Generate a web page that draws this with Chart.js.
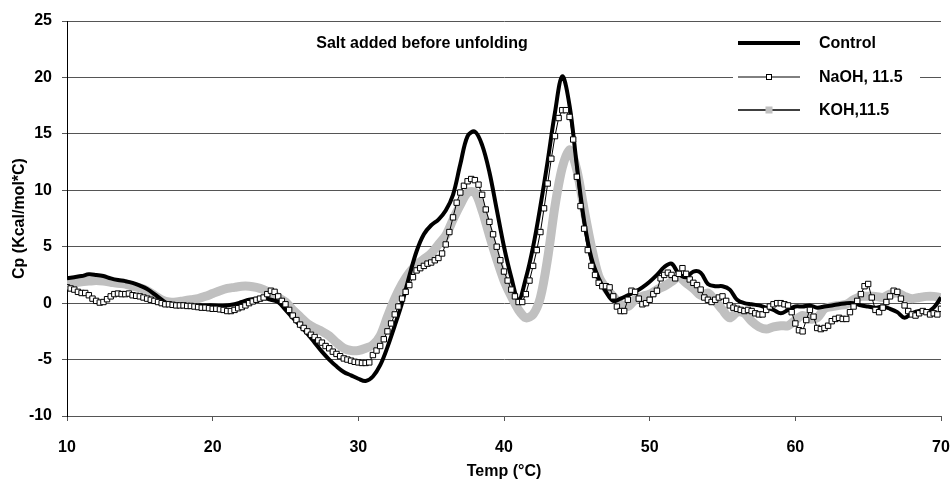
<!DOCTYPE html>
<html>
<head>
<meta charset="utf-8">
<title>Salt added before unfolding</title>
<script src="https://cdn.jsdelivr.net/npm/chart.js@4.4.0/dist/chart.umd.min.js"></script>
<style>
  html, body { margin: 0; padding: 0; background: #fff; }
  #wrap { width: 952px; height: 484px; }
</style>
</head>
<body>
<div id="wrap"><canvas id="cpChart" width="952" height="484"></canvas></div>
<script>
// Данные кривых (читались с картинки), шаг по температуре 0.5 и 0.25 °C
const chartTitle = "Salt added before unfolding";
const seriesNames = ["Control", "NaOH, 11.5", "KOH,11.5"];
const tempStart = 10;
const coarseStep = 0.5;
const fineStep = 0.25;
const xTicks = [10, 20, 30, 40, 50, 60, 70];
const yTicks = [-10, -5, 0, 5, 10, 15, 20, 25];

// Control, 10..70 шаг 0.5
const controlCp = [
  2.2, 2.3, 2.4, 2.55, 2.5, 2.4, 2.2, 2.05, 1.95, 1.8,
  1.55, 1.25, 0.8, 0.3, -0.1, -0.2, -0.25, -0.25, -0.2, -0.2,
  -0.2, -0.25, -0.2, -0.1, 0.1, 0.3, 0.4, 0.45, 0.3, 0.1,
  -0.6, -1.3, -2.0, -2.7, -3.5, -4.3, -5.0, -5.6, -6.1, -6.4,
  -6.7, -6.9, -6.5, -5.5, -3.9, -2.0, 0.0, 2.4, 4.6, 6.1,
  6.9, 7.4, 8.2, 9.6, 12.3, 14.8, 15.2, 14.0, 11.6, 8.3,
  5.0, 2.3, 0.3, 2.2, 5.0, 8.6, 12.6, 16.9, 20.1, 17.5,
  12.2, 7.3, 4.0, 2.2, 1.0, 0.2, 0.4, 0.7, 1.0, 1.4,
  1.9, 2.5, 3.2, 3.5, 2.6, 2.3, 2.8, 2.7, 1.7, 1.5,
  1.5, 1.2, 0.3, 0.0, -0.1, -0.2, -0.4, -0.6, -0.9, -0.6,
  -0.3, -0.3, -0.2, -0.4, -0.3, -0.2, -0.1, 0.0, 0.0, -0.2,
  -0.3, -0.4, -0.3, -0.5, -0.8, -1.3, -0.9, -0.7, -0.8, -0.4,
  0.5
];

// KOH, 10..70 шаг 0.5
const kohCp = [
  1.7, 1.8, 1.9, 1.95, 2.0, 1.95, 1.85, 1.75, 1.7, 1.5,
  1.35, 1.1, 0.7, 0.3, 0.1, 0.1, 0.2, 0.3, 0.4, 0.6,
  0.85, 1.1, 1.3, 1.4, 1.5, 1.5, 1.4, 1.2, 0.9, 0.5,
  0.1, -0.6, -1.2, -1.8, -2.2, -2.5, -2.9, -3.5, -4.0, -4.2,
  -4.2, -4.0, -3.7, -2.9, -1.2, 0.4, 1.7, 2.7, 3.4, 3.9,
  4.4, 5.2, 6.0, 7.4, 8.7, 9.8, 9.8, 8.2, 6.0, 3.9,
  2.0, 0.6, -0.6, -1.3, -1.0, 0.5, 4.0, 8.6, 12.0, 13.6,
  11.8, 8.3, 5.0, 2.4, 1.3, 0.6, -0.1, -0.3, 0.3, 0.6,
  0.8, 1.2, 1.5, 1.9, 2.3, 1.8, 1.3, 0.7, 0.9, 0.2,
  -0.6, -1.3, -0.8, -0.9, -1.6, -2.1, -2.3, -2.1, -2.0, -2.0,
  -1.5, -1.1, -1.4, -1.3, -0.5, -0.3, -0.2, -0.1, 0.3, 0.6,
  0.6, 0.6, 0.5, 0.8, 0.9, 0.6, 0.4, 0.5, 0.6, 0.6,
  0.5
];

// NaOH, 10..70 шаг 0.25
const naohCp = [
  1.4, 1.3, 1.2, 1.0, 0.9, 0.9, 0.7, 0.4, 0.2, 0.05,
  0.1, 0.35, 0.6, 0.8, 0.85, 0.8, 0.8, 0.85, 0.7, 0.65,
  0.6, 0.5, 0.4, 0.3, 0.2, 0.1, 0.0, -0.1, -0.1, -0.15,
  -0.2, -0.2, -0.2, -0.25, -0.25, -0.3, -0.35, -0.4, -0.4, -0.45,
  -0.5, -0.5, -0.55, -0.6, -0.7, -0.7, -0.6, -0.45, -0.35, -0.2,
  0.0, 0.15, 0.3, 0.4, 0.5, 0.8, 1.1, 1.0, 0.6, 0.2,
  -0.1, -0.6, -1.1, -1.5, -1.9, -2.2, -2.5, -2.8, -3.0, -3.3,
  -3.5, -3.8, -4.0, -4.3, -4.5, -4.7, -4.9, -5.0, -5.1, -5.2,
  -5.25, -5.3, -5.3, -5.25, -4.6, -4.2, -3.8, -3.2, -2.5, -1.8,
  -1.0, -0.3, 0.4, 1.0, 1.6, 2.3, 2.9, 3.1, 3.3, 3.5,
  3.6, 3.8, 4.0, 4.4, 5.2, 6.3, 7.6, 8.9, 9.8, 10.4,
  10.8, 11.0, 10.9, 10.5, 9.6, 8.3, 7.2, 6.1, 5.0, 3.8,
  2.8, 2.0, 1.2, 0.6, 0.1, 0.1, 0.8, 2.0, 3.3, 4.7,
  6.3, 8.4, 10.6, 12.8, 14.8, 16.4, 17.1, 17.1, 16.5, 14.5,
  11.2, 8.6, 6.6, 4.7, 3.3, 2.5, 1.8, 1.5, 1.5, 1.4,
  0.6, -0.3, -0.7, -0.7, 0.3, 1.1, 1.0, 0.4, -0.1, 0.0,
  0.3, 0.8, 1.1, 2.2, 2.5, 2.7, 2.5, 2.2, 2.6, 3.1,
  2.6, 2.1, 1.8, 1.6, 1.2, 0.5, 0.3, 0.1, 0.3, 0.5,
  0.6, 0.2, -0.2, -0.4, -0.5, -0.6, -0.7, -0.6, -0.7, -0.9,
  -1.0, -1.0, -0.6, -0.3, -0.1, 0.0, 0.0, -0.1, -0.2, -0.8,
  -1.8, -2.4, -2.5, -1.5, -0.6, -1.2, -2.2, -2.3, -2.2, -2.0,
  -1.6, -1.4, -1.3, -1.4, -1.4, -0.8, -0.3, 0.2, 0.8, 1.5,
  1.7, 0.5, -0.6, -0.8, -0.4, 0.1, 0.6, 1.1, 1.0, 0.4,
  -0.2, -0.7, -1.0, -1.1, -0.9, -0.7, -0.8, -1.0, -0.9, -1.0,
  -0.5
];

function toPoints(values, step) {
    return values.map(function(v, i) {
        return { x: tempStart + i * step, y: v };
    });
}

const fontFamily = '"Liberation Sans", Arial, sans-serif';

// Подпись и легенда внутри области графика
const insideTextPlugin = {
    id: "insideText",
    afterDraw: function(chart) {
        const ctx = chart.ctx;
        const area = chart.chartArea;
        ctx.save();
        ctx.font = "bold 16px " + fontFamily;
        ctx.fillStyle = "#000";
        ctx.textBaseline = "middle";
        ctx.textAlign = "center";
        ctx.fillText(chartTitle, area.left + 355, area.top + 23);

        // белая подложка легенды
        const boxLeft = area.right - 208;
        const boxTop = area.top + 5;
        ctx.fillStyle = "#fff";
        ctx.fillRect(boxLeft, boxTop, 187, 104);

        const lineX0 = area.right - 203;
        const lineX1 = area.right - 141;
        const rowY = [area.top + 22, area.top + 56, area.top + 89];
        ctx.textAlign = "left";
        for (let i = 0; i < seriesNames.length; i++) {
            const y = rowY[i];
            ctx.strokeStyle = "#000";
            ctx.lineWidth = i === 0 ? 4 : (i === 1 ? 1 : 1.5);
            ctx.beginPath();
            ctx.moveTo(lineX0, y);
            ctx.lineTo(lineX1, y);
            ctx.stroke();
            const mx = (lineX0 + lineX1) / 2;
            if (i === 1) {
                ctx.fillStyle = "#fff";
                ctx.fillRect(mx - 2.5, y - 2.5, 5, 5);
                ctx.lineWidth = 1;
                ctx.strokeRect(mx - 2.5, y - 2.5, 5, 5);
            } else if (i === 2) {
                ctx.fillStyle = "#c0c0c0";
                ctx.fillRect(mx - 3.5, y - 3.5, 7, 7);
            }
            ctx.fillStyle = "#000";
            ctx.fillText(seriesNames[i], area.right - 122, y + 1);
        }
        ctx.restore();
    }
};

Chart.defaults.font.family = fontFamily;
Chart.defaults.font.size = 16;
Chart.defaults.font.weight = "bold";
Chart.defaults.color = "#000";

const ctx = document.getElementById("cpChart").getContext("2d");
new Chart(ctx, {
    type: "line",
    data: {
        datasets: [
            {
                label: seriesNames[0],
                data: toPoints(controlCp, coarseStep),
                borderColor: "#000",
                borderWidth: 4,
                pointRadius: 0,
                tension: 0.35,
                borderJoinStyle: "round",
                order: 2
            },
            {
                label: seriesNames[1],
                data: toPoints(naohCp, fineStep),
                borderColor: "#000",
                borderWidth: 1,
                pointStyle: "rect",
                pointRadius: 3.8,
                pointHoverRadius: 3.8,
                pointBackgroundColor: "#fff",
                pointBorderColor: "#000",
                pointBorderWidth: 1,
                tension: 0,
                order: 1
            },
            {
                label: seriesNames[2],
                data: toPoints(kohCp, coarseStep),
                borderColor: "#c0c0c0",
                borderWidth: 9,
                pointRadius: 0,
                tension: 0.3,
                borderJoinStyle: "round",
                order: 3
            }
        ]
    },
    options: {
        responsive: false,
        animation: false,
        layout: { padding: { left: 0, right: 11, top: 21, bottom: 0 } },
        plugins: {
            legend: { display: false },
            tooltip: { enabled: false }
        },
        scales: {
            x: {
                type: "linear",
                min: xTicks[0],
                max: xTicks[xTicks.length - 1],
                afterFit: function(scale) {
                    // высота оси и без лишнего отступа справа под подпись "70"
                    scale.height = 68;
                    scale.paddingLeft = 0;
                    scale.paddingRight = 0;
                },
                afterBuildTicks: function(scale) {
                    scale.ticks = xTicks.map(function(v) { return { value: v }; });
                },
                ticks: { padding: 17, maxRotation: 0 },
                grid: { drawOnChartArea: false, tickLength: 5, color: "#555" },
                border: { color: "#555" },
                title: {
                    display: true,
                    text: "Temp (°C)",
                    padding: { top: 0, bottom: 3 }
                }
            },
            y: {
                min: yTicks[0],
                max: yTicks[yTicks.length - 1],
                afterFit: function(scale) { scale.width = 67; },
                afterBuildTicks: function(scale) {
                    scale.ticks = yTicks.map(function(v) { return { value: v }; });
                },
                ticks: { padding: 10 },
                grid: { color: "#555", tickLength: 5 },
                border: { color: "#000" },
                title: {
                    display: true,
                    text: "Cp (Kcal/mol*C)",
                    padding: { top: 10, bottom: 0 }
                }
            }
        }
    },
    plugins: [insideTextPlugin]
});
</script>
</body>
</html>
